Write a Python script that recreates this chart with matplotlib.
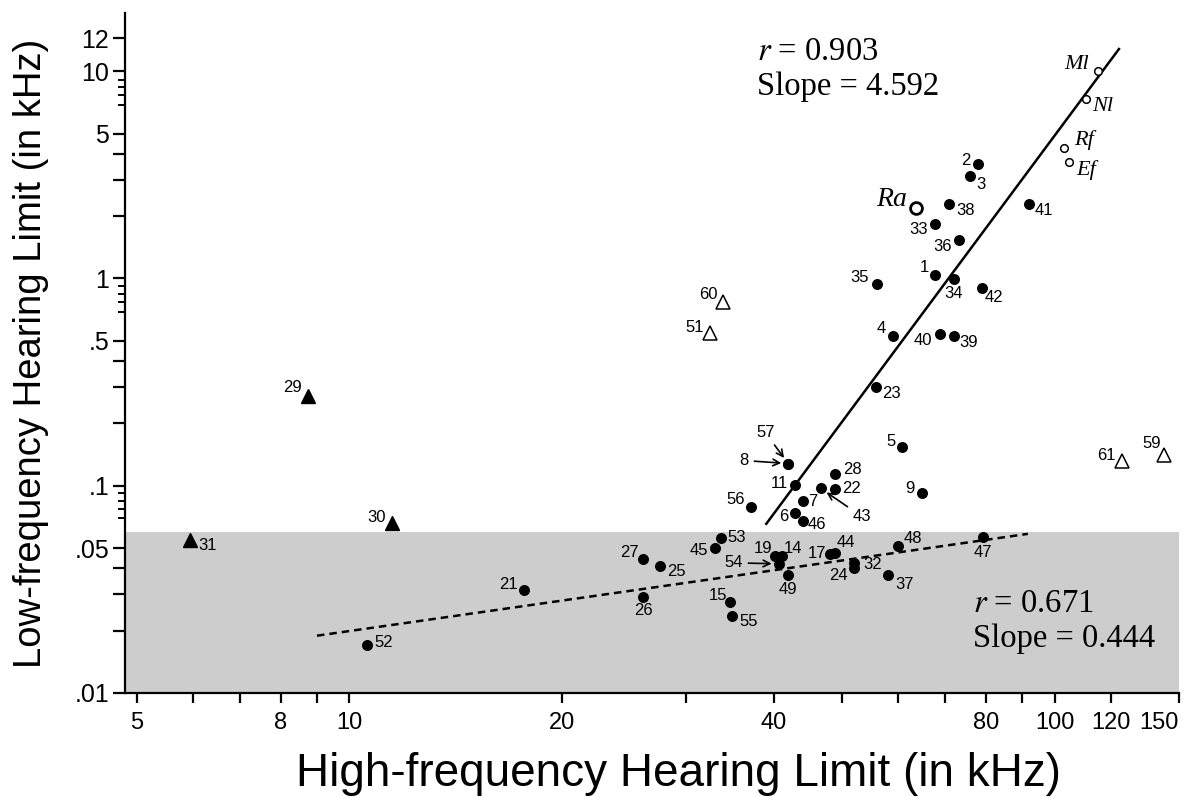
import matplotlib.pyplot as plt
from matplotlib.ticker import FixedLocator, FixedFormatter, NullFormatter

plt.rcParams['font.family'] = ['Liberation Sans', 'DejaVu Sans']
plt.rcParams['mathtext.fontset'] = 'stix'

# filled circles: species number, high-frequency limit (kHz), low-frequency limit (kHz)
dot_ids = ['1', '2', '3', '4', '5', '6', '7', '8', '9', '11', '14', '15', '17', '19', '21',
           '22', '23', '24', '25', '26', '27', '28', '32', '33', '34', '35', '36', '37', '38',
           '39', '40', '41', '42', '43', '44', '45', '46', '47', '48', '49', '52', '53', '54',
           '55', '56', '57']
dot_hf = [67.6, 77.8, 75.8, 58.9, 60.8, 42.8, 43.9, 41.9, 64.8, 42.9, 41.0, 34.6, 48.0, 40.1, 17.7,
          48.8, 55.8, 51.9, 27.6, 26.1, 26.1, 48.8, 51.9, 67.6, 71.9, 55.9, 73.1, 58.1, 70.7,
          71.9, 68.7, 91.9, 78.8, 46.6, 48.8, 33.0, 43.9, 79.1, 59.9, 41.9, 10.6, 33.6, 40.6,
          34.9, 37.1, 41.9]
dot_lf = [1.045, 3.55, 3.11, 0.525, 0.153, 0.074, 0.084, 0.128, 0.0925, 0.101, 0.0457, 0.0275, 0.0469, 0.0457, 0.0314,
          0.0962, 0.301, 0.0402, 0.0408, 0.0291, 0.0444, 0.114, 0.0425, 1.84, 0.989, 0.936, 1.54, 0.037, 2.28,
          0.530, 0.542, 2.28, 0.895, 0.097, 0.0474, 0.0502, 0.0678, 0.0567, 0.0513, 0.037, 0.0171, 0.0561, 0.0420,
          0.0235, 0.0792, 0.128]

# filled triangles
tri_ids = ['29', '30', '31']
tri_hf = [8.75, 11.5, 5.95]
tri_lf = [0.272, 0.0663, 0.0548]

# open triangles
otri_ids = ['51', '60', '59', '61']
otri_hf = [32.5, 33.9, 142.8, 124.5]
otri_lf = [0.548, 0.766, 0.141, 0.132]

# open circles (italic labels)
ocirc_ids = ['Ml', 'Nl', 'Rf', 'Ef']
ocirc_hf = [115.1, 110.6, 103.0, 104.7]
ocirc_lf = [10.0, 7.32, 4.25, 3.63]
ra_hf = [63.5]
ra_lf = [2.20]

# regression lines (end points)
steep_hf = [39.0, 123.3]
steep_lf = [0.0655, 12.8]
flat_hf = [9.0, 91.6]
flat_lf = [0.0189, 0.0586]

# label offsets in pixels (dx right, dy down) from the marker centre
offs = {'1': (-10, -7), '2': (-12, -4), '3': (11, 8), '4': (-11, -8), '5': (-11, -6), '6': (-11, 4),
        '7': (10, 0), '8': (-44, -3), '9': (-12, -4), '11': (-16, -1), '14': (11, -8), '15': (-12, -6),
        '17': (-13, 0), '19': (-12, -8), '21': (-16, -6), '22': (17, -1), '23': (15, 7), '24': (-15, 8),
        '25': (16, 5), '26': (0, 14), '27': (-14, -6), '28': (17, -4), '32': (19, 2), '33': (-16, 6),
        '34': (0, 14), '35': (-17, -7), '36': (-16, 7), '37': (16, 9), '38': (17, 6), '39': (15, 7),
        '40': (-17, 7), '41': (15, 6), '42': (12, 9), '43': (41, 28), '44': (11, -10), '45': (-16, 3),
        '46': (14, 4), '47': (0, 16), '48': (15, -7), '49': (0, 14), '52': (17, -2), '53': (16, 0),
        '54': (-45, -1), '55': (16, 5), '56': (-15, -7), '57': (-23, -31),
        '29': (-16, -8), '30': (-16, -5), '31': (17, 6), '51': (-16, -5), '60': (-15, -8),
        '59': (-12, -11), '61': (-16, -5),
        'Ml': (-21, -7), 'Nl': (17, 7), 'Rf': (20, -8), 'Ef': (17, 8), 'Ra': (-24, -8)}
arrowed = ['8', '43', '54', '57']

fig = plt.figure(figsize=(11.86, 7.97), dpi=100)
ax = fig.add_axes([0.1054, 0.1305, 0.8887, 0.8532])
ax.set_xscale('log')
ax.set_yscale('log')
ax.set_xlim(4.81, 150)
ax.set_ylim(0.01, 19.1)

ax.axhspan(0.01, 0.06, color='#cdcdcd', lw=0, zorder=0)

ax.plot(steep_hf, steep_lf, color='black', lw=1.8, zorder=2)
ax.plot(flat_hf, flat_lf, color='black', lw=1.8, ls=(0, (3, 2)), zorder=2)

ax.plot(dot_hf, dot_lf, 'o', color='black', ms=6.9, zorder=3)
ax.plot(tri_hf, tri_lf, '^', color='black', ms=9.5, zorder=3)
ax.plot(otri_hf, otri_lf, '^', mfc='white', mec='black', mew=1.1, ms=9.5, zorder=3)
ax.plot(ocirc_hf, ocirc_lf, 'o', mfc='white', mec='black', mew=1.1, ms=5.5, zorder=3)
ax.plot(ra_hf, ra_lf, 'o', mfc='white', mec='black', mew=2.0, ms=8.5, zorder=3)


def put(lab, x, y, **kw):
    dx, dy = offs[lab]
    if lab in arrowed:
        ax.annotate(lab, (x, y), xytext=(dx, -dy), textcoords='offset pixels',
                    ha='center', va='center', fontsize=12,
                    arrowprops=dict(arrowstyle='->', lw=1.2, color='black',
                                    shrinkA=2, shrinkB=5), zorder=4)
    else:
        ax.annotate(lab, (x, y), xytext=(dx, -dy), textcoords='offset pixels',
                    ha='center', va='center', zorder=4, **kw)


for lab, x, y in zip(dot_ids, dot_hf, dot_lf):
    put(lab, x, y, fontsize=12)
for lab, x, y in zip(tri_ids, tri_hf, tri_lf):
    put(lab, x, y, fontsize=12)
for lab, x, y in zip(otri_ids, otri_hf, otri_lf):
    put(lab, x, y, fontsize=12)
for lab, x, y in zip(ocirc_ids, ocirc_hf, ocirc_lf):
    put(lab, x, y, fontsize=16, family='Liberation Serif', style='italic')
put('Ra', ra_hf[0], ra_lf[0], fontsize=20, family='Liberation Serif', style='italic')

# regression statistics
serif = dict(family='Liberation Serif', fontsize=23.5, va='baseline', ha='left')
ax.text(0.5996, 0.931, '$r$ = 0.903', transform=ax.transAxes, **serif)
ax.text(0.5996, 0.879, 'Slope = 4.592', transform=ax.transAxes, **serif)
ax.text(0.8046, 0.119, '$r$ = 0.671', transform=ax.transAxes, **serif)
ax.text(0.8046, 0.0676, 'Slope = 0.444', transform=ax.transAxes, **serif)

# axes styling
for s in ['top', 'right']:
    ax.spines[s].set_visible(False)
for s in ['left', 'bottom']:
    ax.spines[s].set_linewidth(1.6)

xt = [5, 6, 7, 8, 9, 10, 20, 30, 40, 50, 60, 70, 80, 90, 100, 120, 150]
xl = ['5', '', '', '8', '', '10', '20', '', '40', '', '', '', '80', '', '100', '120', '150']
ax.xaxis.set_major_locator(FixedLocator(xt))
ax.xaxis.set_major_formatter(FixedFormatter(xl))
ax.xaxis.set_minor_locator(FixedLocator([]))
ax.xaxis.set_minor_formatter(NullFormatter())

yt = [0.01, 0.02, 0.03, 0.04, 0.05, 0.1, 0.2, 0.3, 0.4, 0.5, 1, 2, 3, 4, 5, 10, 14.4]
yl = ['.01', '', '', '', '.05', '.1', '', '', '', '.5', '1', '', '', '', '5', '10', '12']
ym = [0.0701, 0.0774, 0.0846, 0.0925, 0.69, 0.77, 0.846, 0.925, 6.85, 7.66, 8.37, 9.06]
ax.yaxis.set_major_locator(FixedLocator(yt))
ax.yaxis.set_major_formatter(FixedFormatter(yl))
ax.yaxis.set_minor_locator(FixedLocator(ym))
ax.yaxis.set_minor_formatter(NullFormatter())

ax.tick_params(axis='x', which='major', length=7.5, width=1.6, labelsize=17, pad=6)
ax.tick_params(axis='y', which='major', length=8.5, width=1.6, labelsize=18, pad=3)
ax.tick_params(axis='y', which='minor', length=5, width=1.4)

# the last x label sits left of its tick so it stays inside the figure
fig.canvas.draw()
ax.get_xticklabels()[-1].set_horizontalalignment('right')
ax.get_xticklabels()[-1].set_x(150)

fig.text(679 / 1186, 1 - 786 / 797, 'High-frequency Hearing Limit (in kHz)',
         fontsize=33, ha='center', va='baseline')
fig.text(31 / 1186, 1 - 353 / 797, 'Low-frequency Hearing Limit (in kHz)',
         fontsize=27.5, rotation=90, ha='center', va='center')

fig.savefig('out.png', dpi=100)
